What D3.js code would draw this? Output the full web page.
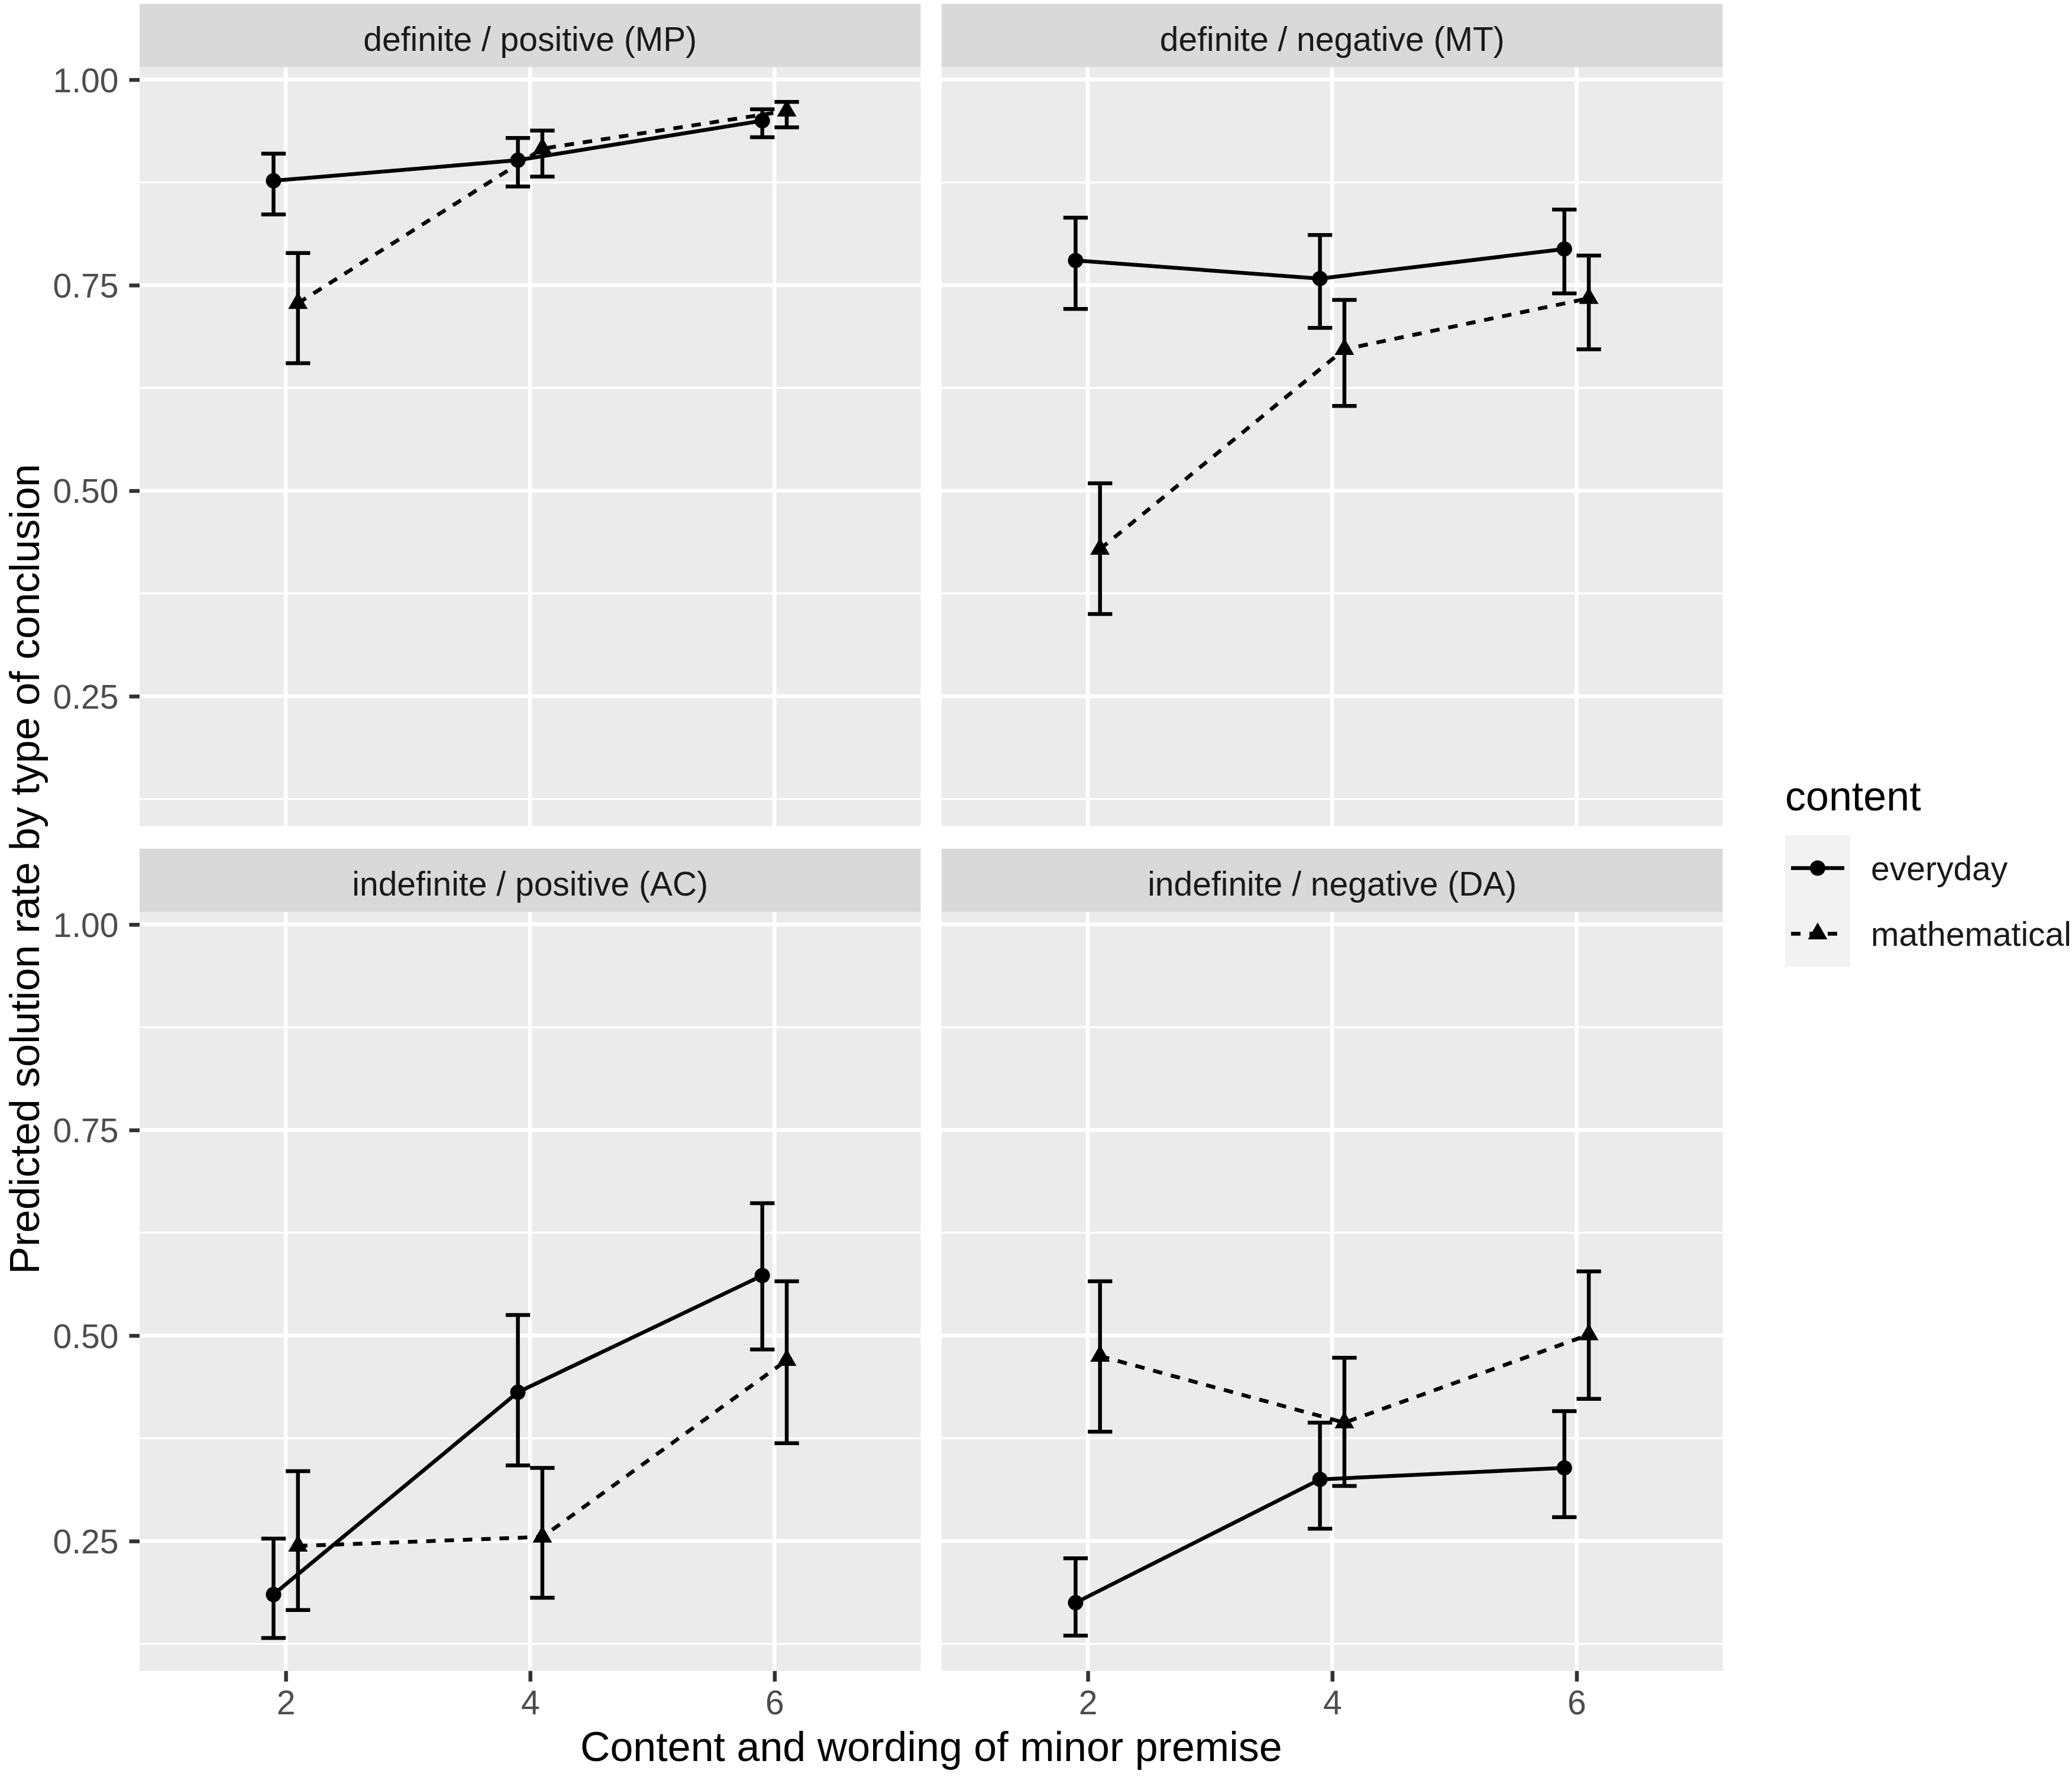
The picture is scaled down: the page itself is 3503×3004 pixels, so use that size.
<!DOCTYPE html>
<html><head><meta charset="utf-8">
<script src="https://cdn.jsdelivr.net/npm/d3@7"></script>
<style>
body{margin:0;background:#fff}
svg{display:block}
text{font-family:"Liberation Sans",Arial,Helvetica,sans-serif}
</style>
</head><body>
<script>
// ---------------- data ----------------
const facets = ["definite / positive (MP)", "definite / negative (MT)", "indefinite / positive (AC)", "indefinite / negative (DA)"];
const xBreaks = [2, 4, 6];
const yBreaks = [0.25, 0.50, 0.75, 1.00];
const contentLevels = ["everyday", "mathematical"];
const xTitle = "Content and wording of minor premise";
const yTitle = "Predicted solution rate by type of conclusion";
const legendTitle = "content";
// rows follow facets, columns follow xBreaks
const everydayFit   = [[0.877, 0.902, 0.950], [0.780, 0.758, 0.794], [0.185, 0.431, 0.573], [0.175, 0.325, 0.339]];
const everydayLower = [[0.836, 0.870, 0.930], [0.721, 0.698, 0.740], [0.132, 0.342, 0.483], [0.135, 0.265, 0.279]];
const everydayUpper = [[0.910, 0.929, 0.964], [0.832, 0.811, 0.842], [0.253, 0.525, 0.661], [0.229, 0.394, 0.408]];
const mathFit   = [[0.728, 0.916, 0.962], [0.429, 0.672, 0.734], [0.244, 0.255, 0.470], [0.475, 0.394, 0.501]];
const mathLower = [[0.655, 0.882, 0.942], [0.350, 0.603, 0.672], [0.166, 0.181, 0.369], [0.383, 0.317, 0.423]];
const mathUpper = [[0.789, 0.938, 0.973], [0.509, 0.732, 0.786], [0.335, 0.339, 0.566], [0.566, 0.473, 0.578]];

// ---------------- layout ----------------
const W = 3503, H = 3004;
const colX = [236, 1592], panelW = 1320.5;
const rowY = [113.5, 1541.7], panelH = 1283;
const stripH = 107;
const FONT_SMALL = 57, FONT_TITLE = 70;
const LW = 6.5;

const svg = d3.select("body").append("svg").attr("width", W).attr("height", H);
svg.append("rect").attr("width", W).attr("height", H).attr("fill", "#fff");

const x = d3.scaleLinear().domain([0.804, 7.196]).range([0, panelW]);
const y = d3.scaleLinear().domain([0.092, 1.0152]).range([panelH, 0]);
const yMinor = yBreaks.map(b => b - 0.125);
const dodge = 0.1, capHalf = 0.1;

const series = [
  {name: contentLevels[0], fit: everydayFit, lo: everydayLower, hi: everydayUpper, off: -dodge, dash: null, shape: d3.symbolCircle, size: 530},
  {name: contentLevels[1], fit: mathFit, lo: mathLower, hi: mathUpper, off: dodge, dash: "16,15", shape: d3.symbolTriangle, size: 470}
];

facets.forEach((f, i) => {
  const r = Math.floor(i / 2), c = i % 2;
  const gx = colX[c], gy = rowY[r];
  const g = svg.append("g").attr("transform", `translate(${gx},${gy})`);

  // strip
  svg.append("rect").attr("x", gx).attr("y", gy - stripH).attr("width", panelW).attr("height", stripH).attr("fill", "#D9D9D9");
  svg.append("text").attr("x", gx + panelW / 2).attr("y", gy - stripH + 79)
    .attr("text-anchor", "middle").attr("font-size", FONT_SMALL).attr("fill", "#1A1A1A").text(f);

  // panel background + grid
  g.append("rect").attr("width", panelW).attr("height", panelH).attr("fill", "#EBEBEB");
  g.selectAll(".ymin").data(yMinor).enter().append("line")
    .attr("x1", 0).attr("x2", panelW).attr("y1", d => y(d)).attr("y2", d => y(d))
    .attr("stroke", "#fff").attr("stroke-width", 3.3);
  g.selectAll(".ymaj").data(yBreaks).enter().append("line")
    .attr("x1", 0).attr("x2", panelW).attr("y1", d => y(d)).attr("y2", d => y(d))
    .attr("stroke", "#fff").attr("stroke-width", LW);
  g.selectAll(".xmaj").data(xBreaks).enter().append("line")
    .attr("y1", 0).attr("y2", panelH).attr("x1", d => x(d)).attr("x2", d => x(d))
    .attr("stroke", "#fff").attr("stroke-width", LW);

  // series
  series.forEach(s => {
    const pts = xBreaks.map((xb, j) => ({xv: xb + s.off, v: s.fit[i][j], lo: s.lo[i][j], hi: s.hi[i][j]}));
    const line = d3.line().x(d => x(d.xv)).y(d => y(d.v));
    g.append("path").datum(pts).attr("d", line).attr("fill", "none").attr("stroke", "#000")
      .attr("stroke-width", LW).attr("stroke-dasharray", s.dash);
    const eb = g.selectAll(null).data(pts).enter().append("g");
    eb.append("line").attr("x1", d => x(d.xv)).attr("x2", d => x(d.xv)).attr("y1", d => y(d.lo)).attr("y2", d => y(d.hi))
      .attr("stroke", "#000").attr("stroke-width", LW);
    eb.append("line").attr("x1", d => x(d.xv - capHalf)).attr("x2", d => x(d.xv + capHalf)).attr("y1", d => y(d.lo)).attr("y2", d => y(d.lo))
      .attr("stroke", "#000").attr("stroke-width", LW);
    eb.append("line").attr("x1", d => x(d.xv - capHalf)).attr("x2", d => x(d.xv + capHalf)).attr("y1", d => y(d.hi)).attr("y2", d => y(d.hi))
      .attr("stroke", "#000").attr("stroke-width", LW);
    g.selectAll(null).data(pts).enter().append("path")
      .attr("d", d3.symbol().type(s.shape).size(s.size))
      .attr("transform", d => `translate(${x(d.xv)},${y(d.v)})`).attr("fill", "#000");
  });

  // y axis (left column)
  if (c === 0) {
    const ya = g.append("g").call(d3.axisLeft(y).tickValues(yBreaks).tickFormat(d3.format(".2f")).tickSize(17.5).tickPadding(18));
    ya.select(".domain").remove();
    ya.selectAll("line").attr("stroke", "#333333").attr("stroke-width", LW);
    ya.selectAll("text").attr("font-size", FONT_SMALL).attr("fill", "#4D4D4D")
      .attr("font-family", '"Liberation Sans",Arial,Helvetica,sans-serif').attr("dy", null).attr("y", 20.5);
  }
  // x axis (bottom row)
  if (r === 1) {
    const xa = g.append("g").attr("transform", `translate(0,${panelH})`)
      .call(d3.axisBottom(x).tickValues(xBreaks).tickFormat(d3.format("d")).tickSize(18).tickPadding(14));
    xa.select(".domain").remove();
    xa.selectAll("line").attr("stroke", "#333333").attr("stroke-width", LW);
    xa.selectAll("text").attr("font-size", FONT_SMALL).attr("fill", "#4D4D4D")
      .attr("font-family", '"Liberation Sans",Arial,Helvetica,sans-serif').attr("dy", null).attr("y", 73);
  }
});

// axis titles
svg.append("text").attr("x", (colX[0] + colX[1] + panelW) / 2).attr("y", 2977)
  .attr("text-anchor", "middle").attr("font-size", FONT_TITLE).attr("fill", "#000").text(xTitle);
svg.append("text").attr("transform", `translate(66,${(rowY[0] + rowY[1] + panelH) / 2}) rotate(-90)`)
  .attr("text-anchor", "middle").attr("font-size", FONT_TITLE).attr("fill", "#000").text(yTitle);

// legend
const lg = svg.append("g").attr("transform", "translate(3018,0)");
lg.append("text").attr("x", 0).attr("y", 1370).attr("font-size", FONT_TITLE).attr("fill", "#000").text(legendTitle);
const keyTop = 1412, keySize = 111;
series.forEach((s, k) => {
  const cy = keyTop + keySize * k + keySize / 2;
  lg.append("rect").attr("x", 0).attr("y", keyTop + keySize * k).attr("width", 110).attr("height", keySize).attr("fill", "#F2F2F2");
  lg.append("line").attr("x1", 10).attr("x2", 100).attr("y1", cy).attr("y2", cy)
    .attr("stroke", "#000").attr("stroke-width", LW).attr("stroke-dasharray", s.dash);
  lg.append("path").attr("d", d3.symbol().type(s.shape).size(s.size)).attr("transform", `translate(55,${cy})`).attr("fill", "#000");
  lg.append("text").attr("x", 145).attr("y", cy + 20).attr("font-size", FONT_SMALL).attr("fill", "#1A1A1A").text(s.name);
});
</script>
</body></html>
